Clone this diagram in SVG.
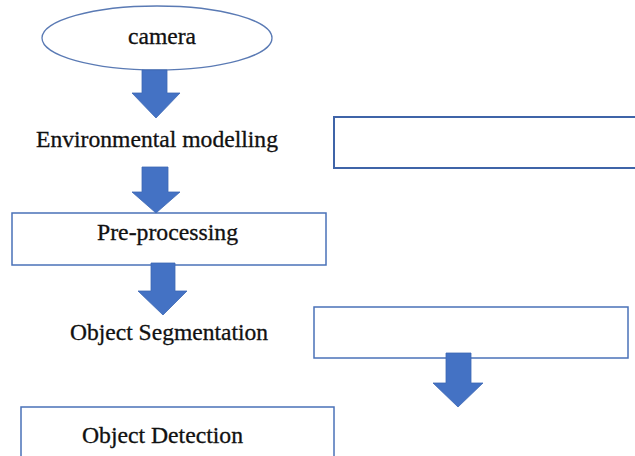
<svg xmlns="http://www.w3.org/2000/svg" width="635" height="456" viewBox="0 0 635 456">
<style>
.box{fill:#fff;stroke:#4a72b8;stroke-width:1.5}
.box2{fill:#fff;stroke:#3f64a8;stroke-width:2}
.lbl{font-family:"Liberation Serif","Times New Roman",serif;font-size:23px;fill:#111;stroke:#111;stroke-width:0.3}
.arr{fill:#4472c4;stroke:#3e68b4;stroke-width:0.8}
</style>
<rect width="635" height="456" fill="#fff"/>
<g id="camera">
<ellipse cx="157" cy="38" rx="115" ry="32" fill="#fff" stroke="#5a7ab4" stroke-width="1.3"/>
<text class="lbl" x="162" y="44" text-anchor="middle" textLength="68" lengthAdjust="spacingAndGlyphs">camera</text>
</g>
<g id="env-modelling">
<text class="lbl" x="36" y="147" textLength="242" lengthAdjust="spacingAndGlyphs">Environmental modelling</text>
</g>
<g id="side-box-1">
<rect class="box2" x="334" y="117" width="310" height="51"/>
</g>
<g id="pre-processing">
<rect class="box" x="12" y="213" width="314" height="52"/>
<text class="lbl" x="97" y="240" textLength="141" lengthAdjust="spacingAndGlyphs">Pre-processing</text>
</g>
<g id="object-segmentation">
<text class="lbl" x="70" y="340" textLength="198" lengthAdjust="spacingAndGlyphs">Object Segmentation</text>
</g>
<g id="side-box-2">
<rect class="box" x="314" y="307" width="314" height="51"/>
</g>
<g id="object-detection">
<rect class="box" x="21" y="407" width="313" height="60"/>
<text class="lbl" x="82" y="443" textLength="161" lengthAdjust="spacingAndGlyphs">Object Detection</text>
</g>
<g id="connectors">
<polygon class="arr" points="142,70 167,70 167,93 180,93 156,118 132,93 142,93"/>
<polygon class="arr" points="142,167 168,167 168,192 180,192 156,213 132,192 142,192"/>
<polygon class="arr" points="151,263 175,263 175,291 187,291 163,315 138,291 151,291"/>
<polygon class="arr" points="446,353 471,353 471,383 483,383 458,407 433,383 446,383"/>
</g>
</svg>
